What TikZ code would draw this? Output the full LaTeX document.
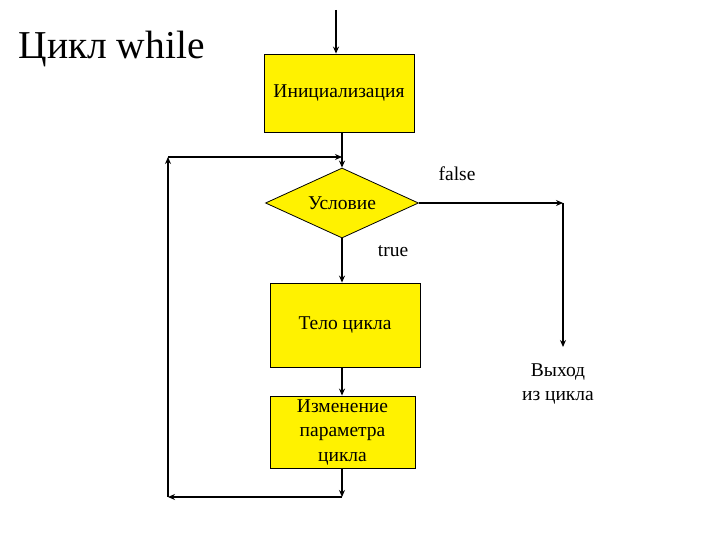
\documentclass[tikz,border=0pt]{standalone}
\usepackage{fontspec}
\setmainfont{Liberation Serif}
\usepackage{tikz}
\usetikzlibrary{arrows.meta,shapes.geometric}

\begin{document}
\begin{tikzpicture}[x=1pt,y=-1pt,>={Stealth[length=7pt,width=6pt]},
  block/.style={rectangle,draw,fill=yellow,line width=0.8pt,inner sep=2pt,align=center,font=\fontsize{19.5}{24.5}\selectfont},
  cond/.style={diamond,aspect=2.2,draw,fill=yellow,line width=0.8pt,inner sep=0pt,minimum width=153pt,minimum height=70pt,font=\fontsize{19.5}{24.5}\selectfont},
  lbl/.style={align=center,font=\fontsize{19.5}{24.5}\selectfont},
  flow/.style={->,line width=1.8pt}]
  \useasboundingbox (0,0) rectangle (720,540);
  \node[anchor=west,font=\fontsize{39.5}{44}\selectfont] (title) at (15,49) {Цикл while};
  \node[block,minimum width=150pt,minimum height=78pt] (init) at (339,93) {Инициализация};
  \node[cond] (test) at (342,203) {Условие};
  \node[block,minimum width=150pt,minimum height=84pt] (body) at (345,325) {Тело цикла};
  \node[block,minimum width=145pt,minimum height=72pt] (step1) at (342.5,432) {Изменение\\параметра\\цикла};
  \node[lbl] (exit) at (558,384) {Выход\\из цикла};
  \node[lbl] (no) at (457,174) {false};
  \node[lbl] (yes) at (393,251) {true};
  % free ends and corners
  \coordinate (entry) at (336,10);
  \coordinate (join) at (342,157);
  \coordinate (back) at (342,497);
  \coordinate (backL) at (168,497);
  \coordinate (backT) at (168,157);
  \coordinate (outR) at (563,203);
  \coordinate (outB) at (563,347);
  \draw[flow] (entry) -- (entry |- init.north);
  \draw[flow] (init.south -| test) -- (test.north);
  \draw[flow] (test.south) -- (body.north -| test);
  \draw[flow] (body.south -| test) -- (step1.north -| test);
  \draw[flow] (step1.south -| test) -- (back);
  \draw[flow] (back) -- (backL);
  \draw[flow] (backL) -- (backT);
  \draw[flow] (backT) -- (join);
  \draw[flow] (test.east) -- (outR);
  \draw[flow] (outR) -- (outB);
\end{tikzpicture}
\end{document}
